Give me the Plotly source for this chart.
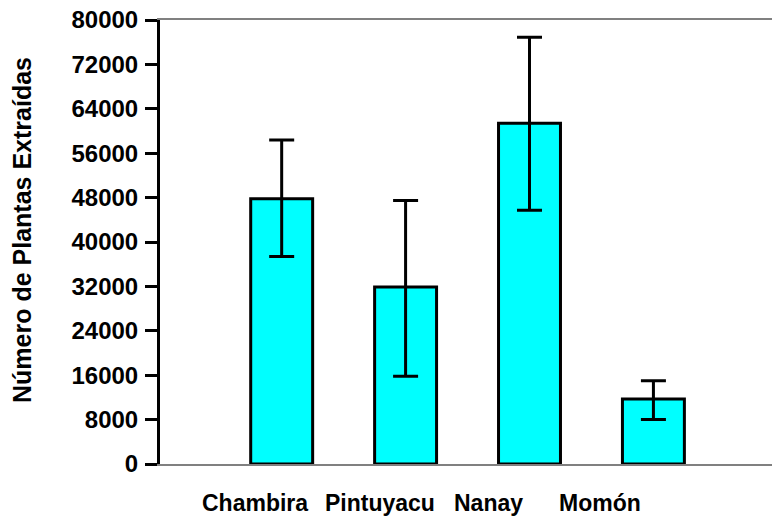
import plotly.graph_objects as go

categories = ["Chambira", "Pintuyacu", "Nanay", "Momón"]
values = [47800, 31900, 61400, 11700]
upper = [58400, 47500, 76900, 15000]
lower = [37400, 15800, 45700, 8000]
y_ticks = list(range(0, 80001, 8000))
label_shift = [-27, -26, -41, -53]

err_plus = [u - v for u, v in zip(upper, values)]
err_minus = [v - l for v, l in zip(values, lower)]

FONT = "Liberation Sans, Arial, sans-serif"

fig = go.Figure()
fig.add_trace(go.Bar(
    x=list(range(len(categories))),
    y=values,
    width=0.5,
    marker=dict(color="#00FFFF", line=dict(color="black", width=3)),
    error_y=dict(type="data", symmetric=False, array=err_plus, arrayminus=err_minus,
                 color="black", thickness=3, width=12.5),
    hoverinfo="skip",
))

for i, (c, s) in enumerate(zip(categories, label_shift)):
    fig.add_annotation(x=i, xref="x", y=0, yref="paper", yshift=-39, xshift=s,
                       text=c, showarrow=False, yanchor="middle",
                       font=dict(family=FONT, size=23, color="black", weight="bold"))

fig.add_annotation(x=0, xref="paper", y=0.5, yref="paper", xshift=-138, yshift=12,
                   text="Número de Plantas Extraídas", textangle=-90, showarrow=False,
                   xanchor="center", yanchor="middle",
                   font=dict(family=FONT, size=25, color="black", weight="bold"))

fig.update_layout(
    width=772, height=520,
    margin=dict(l=160, r=0, t=20, b=56),
    paper_bgcolor="white", plot_bgcolor="white",
    showlegend=False,
    xaxis=dict(range=[-0.982, 3.957], showticklabels=False, ticks="", showgrid=False,
               zeroline=False, showline=True, linecolor="#808080", linewidth=2, mirror=True),
    yaxis=dict(range=[0, 80000], tickvals=y_ticks, tickformat="d", showgrid=False,
               zeroline=False, showline=True, linecolor="black", linewidth=3,
               ticks="outside", ticklen=12, tickwidth=2.5, tickcolor="black",
               ticklabelstandoff=2,
               tickfont=dict(family=FONT, size=24, color="black", weight="bold")),
)

fig.write_html("out.html")
